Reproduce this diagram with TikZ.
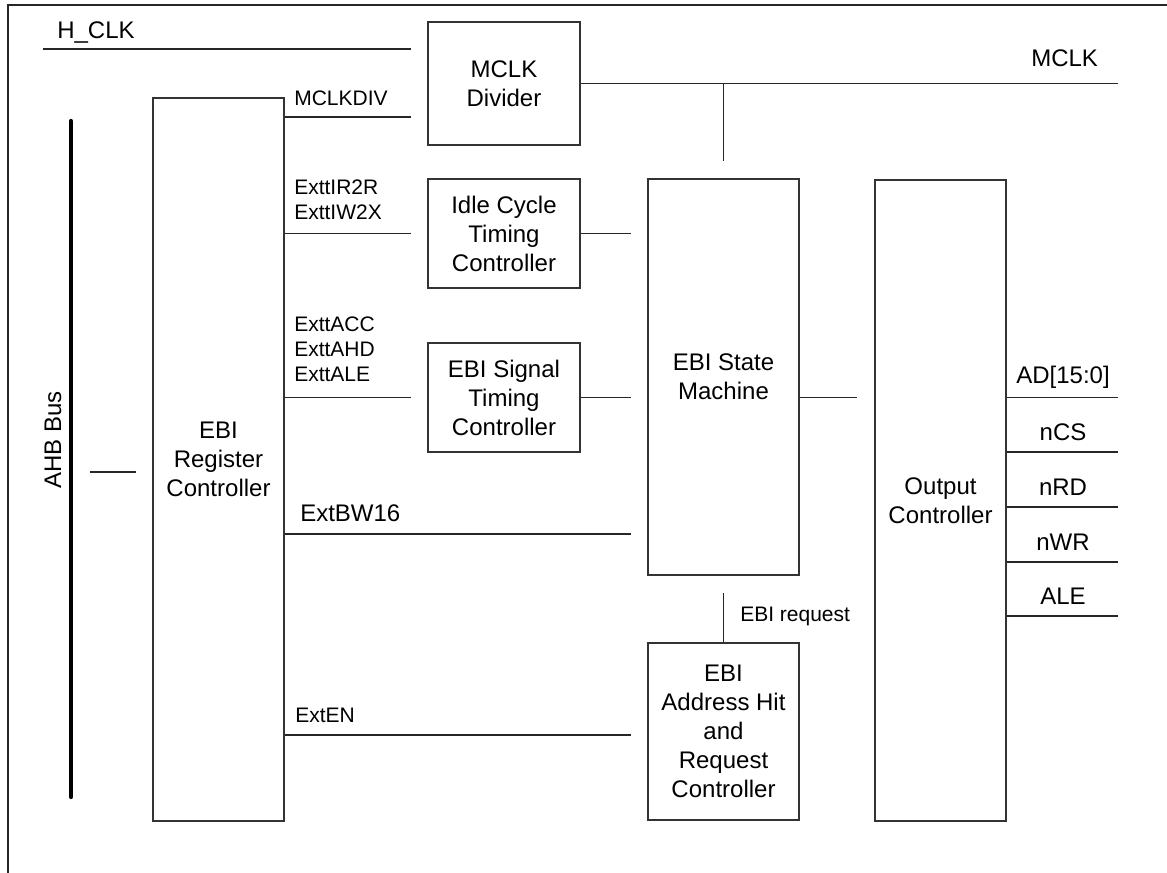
\documentclass[tikz,border=0pt]{standalone}
\usepackage{fontspec}
\setmainfont{Liberation Sans}
\usetikzlibrary{positioning,calc}
\newcommand{\pu}{0.75pt}
\newcommand{\bigtxt}{\fontsize{18}{21.75}\selectfont}
\newcommand{\smalltxt}{\fontsize{15.75}{18.9}\selectfont}
\tikzset{
  blk/.style={draw=black!80, line width=0.8pt, align=center, inner sep=0pt, font=\bigtxt},
  wire/.style={draw=black!85, line width=0.8pt},
  bus/.style={draw=black, line width=3.2pt, line cap=round},
  sig/.style={inner sep=0pt, font=\smalltxt, align=left},
  sigbig/.style={inner sep=0pt, font=\bigtxt, align=left}
}

\begin{document}
\begin{tikzpicture}[x=\pu,y=-\pu]
  \useasboundingbox (0,0) rectangle (1167,873);
  \draw[wire] (1167,5) -- (8,5) -- (8,873);

  % blocks
  \node[blk, minimum width=131*\pu, minimum height=723*\pu] (regctl) at (218.5,459.5) {EBI\\Register\\Controller};
  \node[blk, minimum width=152*\pu, minimum height=123*\pu] (mclkdiv) at (504,83.5) {MCLK\\Divider};
  \node[blk, minimum width=152*\pu, minimum height=109*\pu] (idle) at (504,233.5) {Idle Cycle\\Timing\\Controller};
  \node[blk, minimum width=152*\pu, minimum height=109*\pu] (sigtim) at (504,397.5) {EBI Signal\\Timing\\Controller};
  \node[blk, minimum width=151*\pu, minimum height=396*\pu] (fsm) at (723.5,377) {EBI State\\Machine};
  \node[blk, minimum width=151*\pu, minimum height=177*\pu] (addrhit) at (723.5,731.5) {EBI\\Address Hit\\and\\Request\\Controller};
  \node[blk, minimum width=131*\pu, minimum height=641*\pu] (outctl) at (940.5,500.5) {Output\\Controller};

  % AHB side
  \coordinate (ahbtop) at (71,121);
  \coordinate (ahbbot) at (71,797);
  \draw[bus] (ahbtop) -- (ahbbot);
  \node[sigbig, rotate=90] (lblahb) at (53,440) {AHB Bus};
  \coordinate (ahbtap) at (90,472);
  \coordinate (regtap) at (136,472);
  \draw[wire] (ahbtap) -- (regtap);

  % clocks
  \coordinate (hclkbeg) at (43,49);
  \coordinate (hclkend) at (411,49);
  \draw[wire] (hclkbeg) -- (hclkend);
  \node[sigbig, anchor=west] (lblhclk) at (57,33) {H\_CLK};
  \coordinate (mclkend) at (1118,83.5);
  \draw[wire] (mclkdiv.east) -- (mclkend);
  \node[sigbig, anchor=west] (lblmclk) at (1031,58) {MCLK};
  \coordinate (mclktap) at (723.5,161);
  \draw[wire] (mclktap |- mclkend) -- (mclktap);

  % register controller outputs
  \coordinate (divin) at (411,117);
  \draw[wire] (divin -| regctl.east) -- (divin);
  \node[sig, anchor=west] (lbldiv) at (294,98) {MCLKDIV};
  \coordinate (idlein) at (411,233.5);
  \draw[wire] (idlein -| regctl.east) -- (idlein);
  \node[sig, anchor=west] (lblidle) at (294,199.5) {ExttIR2R\\ExttIW2X};
  \coordinate (sigin) at (411,397.5);
  \draw[wire] (sigin -| regctl.east) -- (sigin);
  \node[sig, anchor=west] (lblsig) at (294,349) {ExttACC\\ExttAHD\\ExttALE};
  \coordinate (bwend) at (631,534);
  \draw[wire] (bwend -| regctl.east) -- (bwend);
  \node[sigbig, anchor=west] (lblbw) at (300,513) {ExtBW16};
  \coordinate (enend) at (631,735);
  \draw[wire] (enend -| regctl.east) -- (enend);
  \node[sig, anchor=west] (lblen) at (295,715) {ExtEN};

  % into the state machine
  \coordinate (idleout) at (631,233.5);
  \draw[wire] (idle.east) -- (idleout);
  \coordinate (sigout) at (631,397.5);
  \draw[wire] (sigtim.east) -- (sigout);
  \coordinate (fsmout) at (857,397.5);
  \draw[wire] (fsmout -| fsm.east) -- (fsmout);
  \coordinate (reqend) at (723.5,593);
  \draw[wire] (addrhit.north) -- (reqend);
  \node[sig, anchor=west] (lblreq) at (740,616) {EBI request};

  % external pins
  \foreach \sname/\yy [count=\i] in {{AD[15:0]}/397.5, nCS/452, nRD/507, nWR/562, ALE/616} {
    \coordinate (pin\i) at (1118,\yy);
    \draw[wire] (pin\i -| outctl.east) -- (pin\i);
    \node[sigbig] (lblpin\i) at (1063,\yy-20) {\sname};
  }
\end{tikzpicture}
\end{document}
